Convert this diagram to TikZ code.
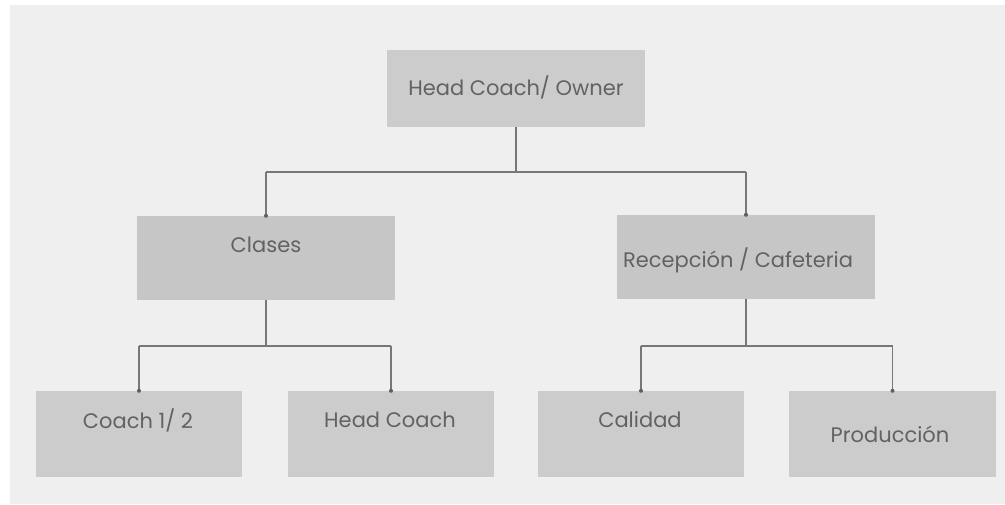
\documentclass[tikz,border=0pt]{standalone}
\usepackage{fontspec}
\setmainfont{Poppins}
\definecolor{panelgray}{HTML}{EFEFEF}
\definecolor{boxgray}{HTML}{CCCCCC}
\definecolor{midgray}{HTML}{C6C6C6}
\definecolor{textgray}{HTML}{626262}
\definecolor{linegray}{HTML}{777777}
\tikzset{
  box/.style={rectangle, fill=boxgray, inner sep=0pt},
  midbox/.style={box, fill=midgray},
  lbl/.style={text=textgray, font=\fontsize{21}{23}\selectfont, inner sep=0pt},
  conn/.style={draw=linegray, line width=1.2pt},
  tipdot/.style={fill=linegray!80!black},
}
\begin{document}
\begin{tikzpicture}[x=1pt,y=-1pt]
\useasboundingbox (0,0) rectangle (1005,504);
% light panel behind the chart
\fill[panelgray] (10,5) rectangle (1005,504);

% boxes
\node[box, minimum width=258pt, minimum height=77pt] (top) at (516,88.5) {};
\node[midbox, minimum width=258pt, minimum height=84pt] (clases) at (266,258) {};
\node[midbox, minimum width=258pt, minimum height=84pt] (rec) at (746,257) {};
\node[box, minimum width=206pt, minimum height=86pt] (c12) at (139,434) {};
\node[box, minimum width=206pt, minimum height=86pt] (hc) at (391,434) {};
\node[box, minimum width=206pt, minimum height=86pt] (cal) at (641,434) {};
\node[box, minimum width=207pt, minimum height=86pt] (prod) at (892.5,434) {};

% labels
\node[lbl] (ttop) at (516,87) {Head Coach/ Owner};
\node[lbl] (tclases) at (266,245) {Clases};
\node[lbl] (trec) at (738,260) {Recepción / Cafeteria};
\node[lbl] (tc12) at (138,420) {Coach 1/ 2};
\node[lbl] (thc) at (390,420) {Head Coach};
\node[lbl] (tcal) at (640,420) {Calidad};
\node[lbl] (tprod) at (890,434) {Producción};

% connector levels
\coordinate (busA) at (0,172);
\coordinate (busB) at (0,346);

% top level
\draw[conn] (top.south) -- (top.south |- busA);
\draw[conn] (clases.north |- busA) -- (rec.north |- busA);
\draw[conn] (clases.north |- busA) -- (clases.north);
\draw[conn] (rec.north |- busA) -- (rec.north);

% under Clases
\draw[conn] (clases.south) -- (clases.south |- busB);
\draw[conn] (c12.north |- busB) -- (hc.north |- busB);
\draw[conn] (c12.north |- busB) -- (c12.north);
\draw[conn] (hc.north |- busB) -- (hc.north);

% under Recepción
\draw[conn] (rec.south) -- (rec.south |- busB);
\draw[conn] (cal.north |- busB) -- (prod.north |- busB);
\draw[conn] (cal.north |- busB) -- (cal.north);
\draw[conn] (prod.north |- busB) -- (prod.north);

% end dots
\foreach \n in {clases, rec, c12, hc, cal, prod}
  \fill[tipdot] (\n.north) circle (2pt);
\end{tikzpicture}
\end{document}
